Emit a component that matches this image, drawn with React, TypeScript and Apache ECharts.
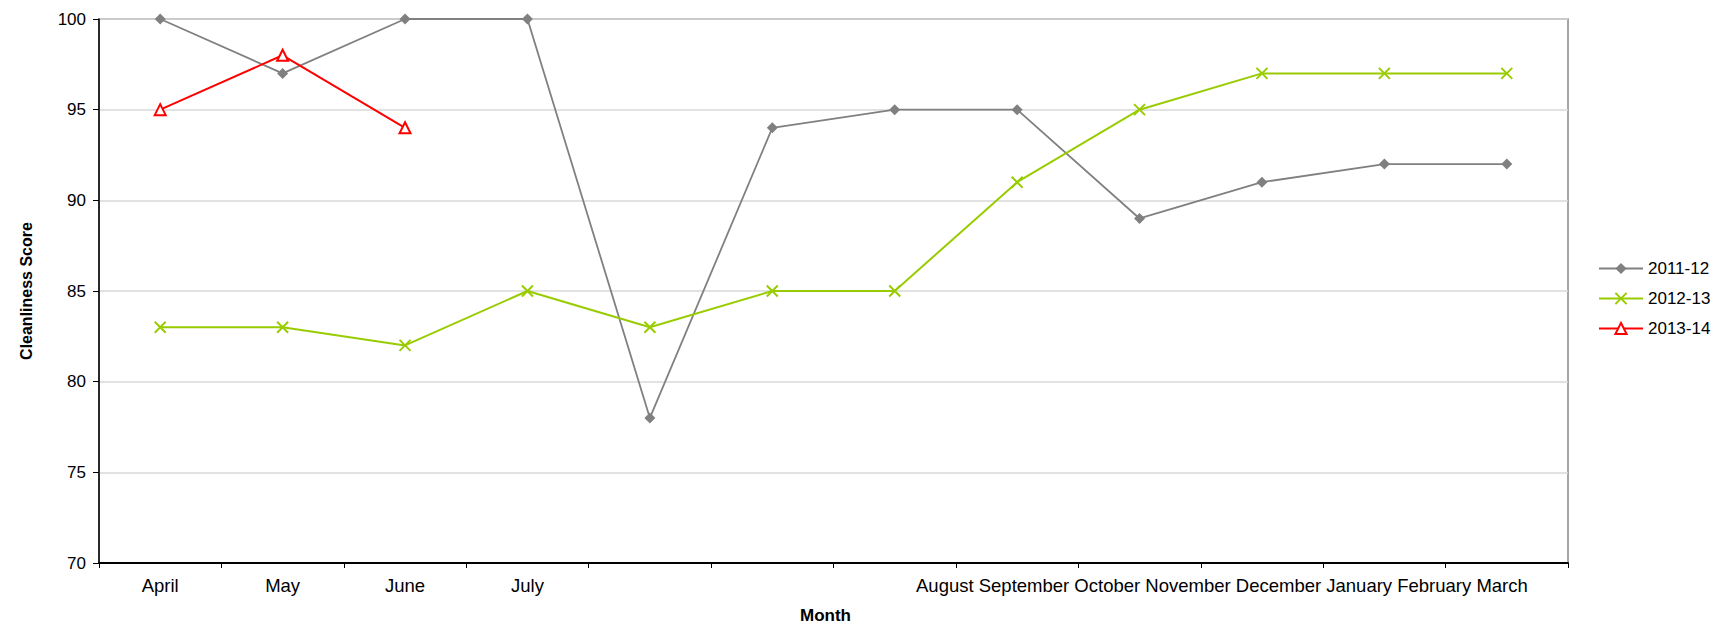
import React, { useEffect, useRef } from "react";
import * as echarts from "echarts";

// ---- data ----
const months = [
  "April", "May", "June", "July", "August", "September",
  "October", "November", "December", "January", "February", "March",
];
// the first months are written under their own category; the rest run together in one line
const ownLabelCount = 4;
const series2011 = [100, 97, 100, 100, 78, 94, 95, 95, 89, 91, 92, 92];
const series2012 = [83, 83, 82, 85, 83, 85, 85, 91, 95, 97, 97, 97];
const series2013 = [95, 98, 94, null, null, null, null, null, null, null, null, null];
const seriesNames = ["2011-12", "2012-13", "2013-14"];
const yMin = 70;
const yMax = 100;
const yStep = 5;

const FONT = "'Liberation Sans', Arial, Helvetica, sans-serif";
const GRAY = "#808080";
const GREEN = "#99CC00";
const RED = "#FF0000";

export default function App() {
  const ref = useRef<HTMLDivElement>(null);

  useEffect(() => {
    document.body.style.margin = "0";
    if (!ref.current) return;
    const chart = echarts.init(ref.current, null, { renderer: "svg" });

    const runOn = months.slice(ownLabelCount).join(" ");

    chart.setOption({
      animation: false,
      backgroundColor: "#ffffff",
      textStyle: { fontFamily: FONT },
      grid: {
        left: 99,
        top: 19,
        width: 1469,
        height: 544,
        show: true,
        borderColor: "#888888",
        borderWidth: 1.5,
        backgroundColor: "transparent",
      },
      legend: {
        orient: "vertical",
        left: 1593,
        top: 255,
        itemWidth: 44,
        itemHeight: 14,
        itemGap: 13,
        textStyle: { fontFamily: FONT, fontSize: 17, color: "#000" },
        data: seriesNames,
      },
      xAxis: {
        type: "category",
        data: months,
        boundaryGap: true,
        axisLine: { show: true, lineStyle: { color: "#000", width: 2 } },
        axisTick: { show: true, interval: 0, length: 5, lineStyle: { color: "#000", width: 1 } },
        axisLabel: {
          interval: 0,
          margin: 13,
          color: "#000",
          fontFamily: FONT,
          fontSize: 18.5,
          formatter: (v: string, i: number) => (i < ownLabelCount ? v : ""),
        },
        splitLine: { show: false },
        name: "Month",
        nameLocation: "middle",
        nameGap: 44,
        nameTextStyle: {
          fontFamily: FONT,
          fontSize: 17,
          fontWeight: "bold",
          color: "#000",
          padding: [0, 16, 0, 0],
        },
      },
      yAxis: {
        type: "value",
        min: yMin,
        max: yMax,
        interval: yStep,
        axisLine: { show: true, lineStyle: { color: "#000", width: 1.5 } },
        axisTick: { show: true, length: 6, lineStyle: { color: "#000", width: 1 } },
        axisLabel: {
          margin: 13,
          color: "#000",
          fontFamily: FONT,
          fontSize: 17,
          padding: [0, 0, 4, 0],
        },
        splitLine: { show: true, lineStyle: { color: "#d9d9d9", width: 1.5 } },
        name: "Cleanliness Score",
        nameLocation: "middle",
        nameRotate: 90,
        nameGap: 65,
        nameTextStyle: {
          fontFamily: FONT,
          fontSize: 16,
          fontWeight: "bold",
          color: "#000",
        },
      },
      graphic: [
        {
          type: "text",
          left: 916,
          top: 576,
          silent: true,
          style: { text: runOn, font: `18.5px ${FONT}`, fill: "#000" },
        },
      ],
      series: [
        {
          name: seriesNames[0],
          type: "line",
          data: series2011,
          color: GRAY,
          symbol: "diamond",
          symbolSize: 11,
          showAllSymbol: true,
          lineStyle: { color: GRAY, width: 1.8 },
          itemStyle: { color: GRAY, borderColor: GRAY, borderWidth: 0 },
          z: 2,
        },
        {
          name: seriesNames[1],
          type: "line",
          data: series2012,
          color: GREEN,
          symbol: "path://M0,0L10,10M10,0L0,10",
          symbolSize: 11,
          showAllSymbol: true,
          lineStyle: { color: GREEN, width: 2 },
          itemStyle: { color: GREEN, borderColor: GREEN, borderWidth: 2 },
          z: 3,
        },
        {
          name: seriesNames[2],
          type: "line",
          data: series2013,
          color: RED,
          symbol: "triangle",
          symbolSize: 11,
          showAllSymbol: true,
          connectNulls: false,
          lineStyle: { color: RED, width: 2 },
          itemStyle: { color: "#ffffff", borderColor: RED, borderWidth: 2 },
          z: 4,
        },
      ],
    });

    return () => chart.dispose();
  }, []);

  return <div ref={ref} style={{ width: 1731, height: 635 }} />;
}
